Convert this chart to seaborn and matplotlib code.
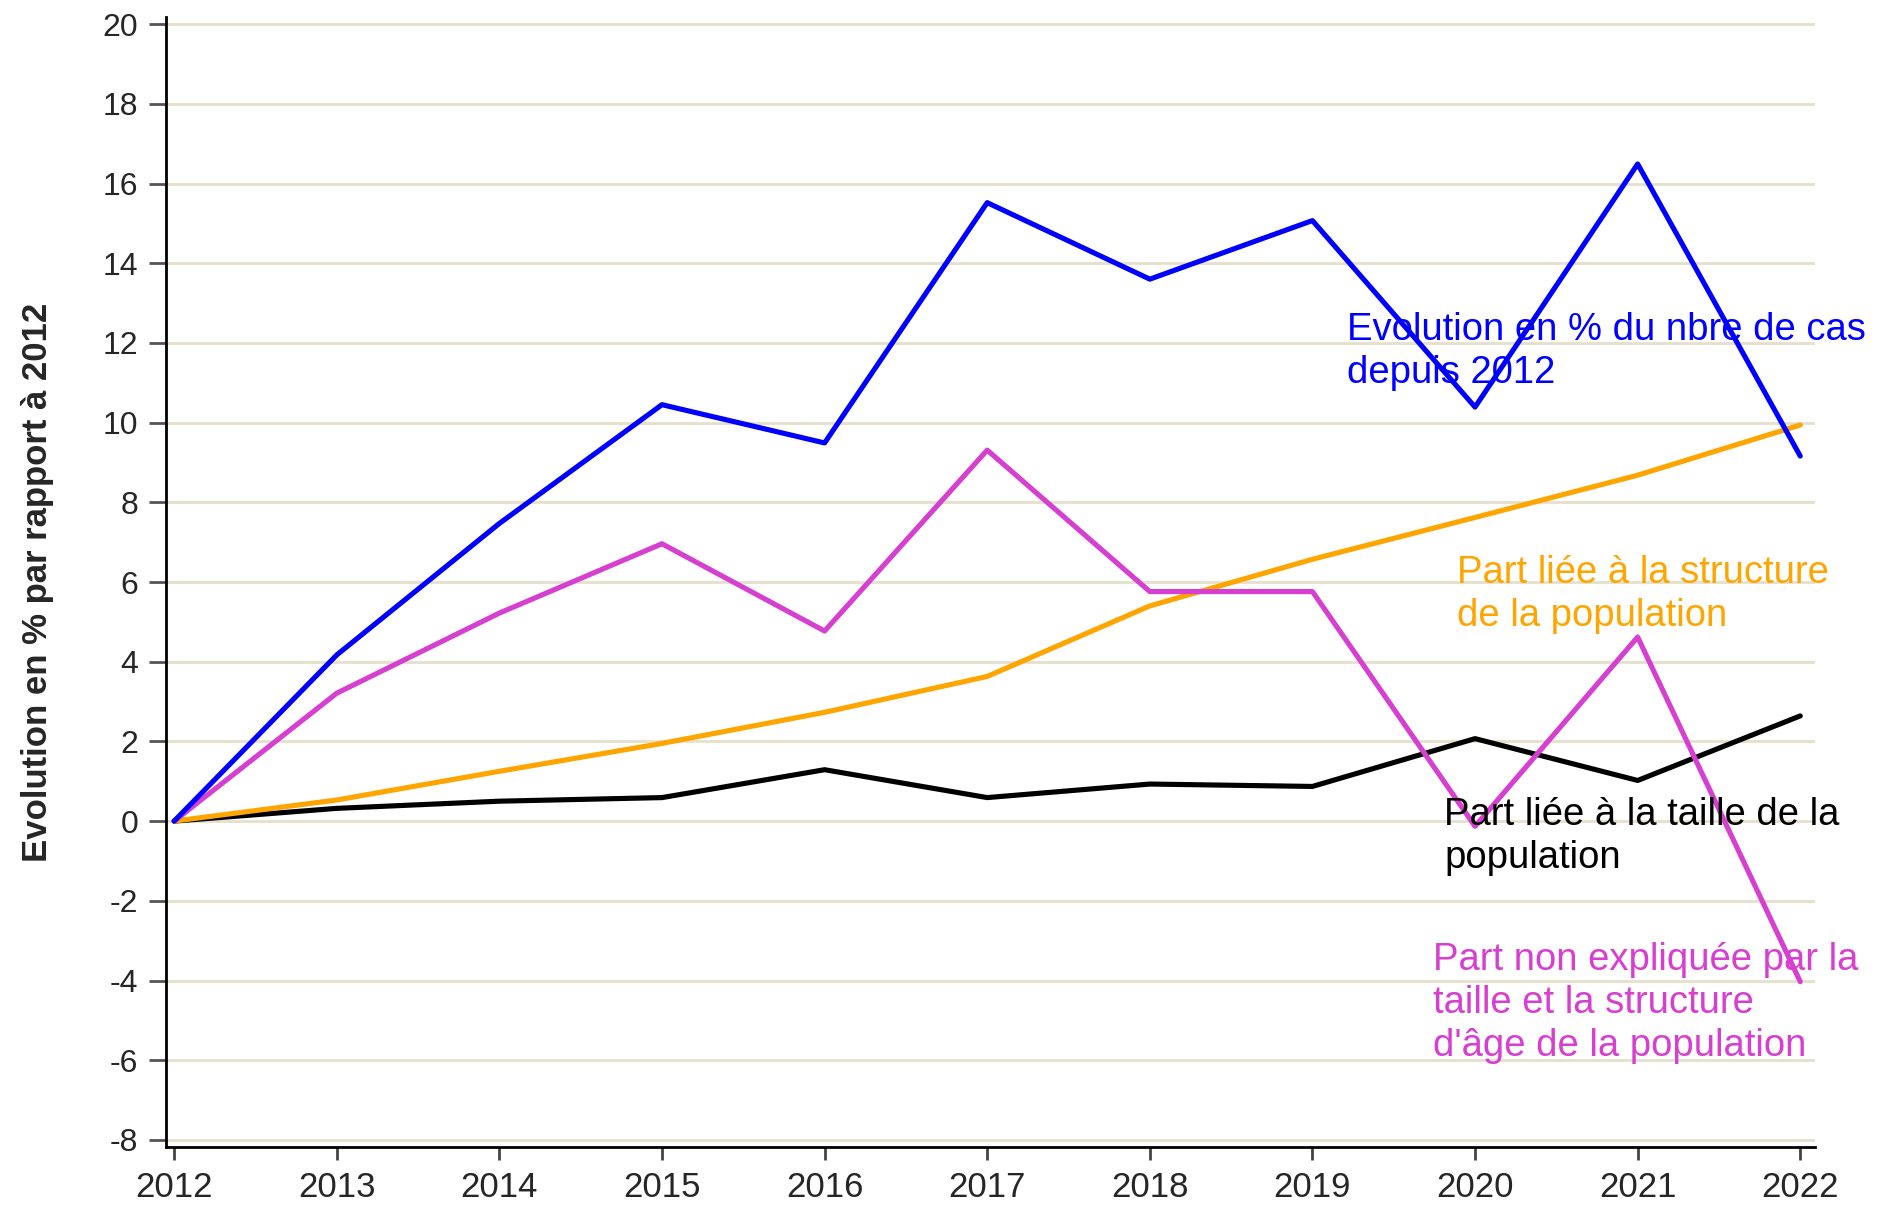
import pandas as pd
import seaborn as sns
import matplotlib.pyplot as plt

annees = [2012, 2013, 2014, 2015, 2016, 2017, 2018, 2019, 2020, 2021, 2022]
evolution_cas = [0, 4.17, 7.47, 10.45, 9.49, 15.52, 13.60, 15.07, 10.39, 16.49, 9.16]
part_structure = [0, 0.53, 1.25, 1.95, 2.73, 3.63, 5.40, 6.57, 7.62, 8.68, 9.94]
part_taille = [0, 0.32, 0.50, 0.59, 1.29, 0.59, 0.93, 0.87, 2.07, 1.02, 2.64]
part_non_expliquee = [0, 3.21, 5.22, 6.96, 4.77, 9.31, 5.76, 5.76, -0.13, 4.62, -4.03]

series = ["taille", "structure", "non_expliquee", "cas"]
couleurs = {"cas": "#0000ff", "structure": "#ffa500", "taille": "#000000", "non_expliquee": "#d63fcf"}
etiquettes = {
    "cas": "Evolution en % du nbre de cas\ndepuis 2012",
    "structure": "Part liée à la structure\nde la population",
    "taille": "Part liée à la taille de la\npopulation",
    "non_expliquee": "Part non expliquée par la\ntaille et la structure\nd'âge de la population",
}
valeurs = {"cas": evolution_cas, "structure": part_structure,
           "taille": part_taille, "non_expliquee": part_non_expliquee}

df = pd.concat([pd.DataFrame({"annee": annees, "valeur": valeurs[s], "serie": s}) for s in series])

sns.set_style("white")
plt.rcParams['font.family'] = ['Liberation Sans', 'DejaVu Sans']

fig = plt.figure(figsize=(18.78, 12.10), dpi=100)
ax = fig.add_axes([0.0884, 0.052, 0.878, 0.934])

for y in range(-8, 21, 2):
    ax.axhline(y, color="#e6dfcb", lw=2, zorder=0)

sns.lineplot(data=df, x="annee", y="valeur", hue="serie", hue_order=series,
             palette=couleurs, linewidth=3.7, legend=False, ax=ax)

# annotations a droite (y = ligne de base de la derniere ligne)
pos_textes = {"cas": (2019.21, 11.00), "structure": (2019.89, 4.90),
              "taille": (2019.81, -1.17), "non_expliquee": (2019.74, -5.89)}
for s, (x, y) in pos_textes.items():
    ax.text(x, y, etiquettes[s], color=couleurs[s], fontsize=27.5,
            linespacing=1.25, va="baseline", ha="left", clip_on=False)

ax.set_xlim(2011.95, 2022.09)
ax.set_ylim(-8.18, 20.18)
ax.set_xticks(annees)
ax.set_xticklabels([str(a) for a in annees], fontsize=25)
ax.set_yticks(range(-8, 21, 2))
ax.set_yticklabels([str(v) for v in range(-8, 21, 2)], fontsize=23)
ax.set_xlabel("")
ax.set_ylabel("Evolution en % par rapport à 2012", fontsize=25, fontweight="bold")
ax.yaxis.set_label_coords(-0.068, 0.5)

ax.tick_params(axis="y", direction="out", length=12, width=2, color="#555555", pad=8, left=True)
ax.tick_params(axis="x", direction="out", length=9, width=2, color="#444444", pad=8, bottom=True)

for side in ["top", "right"]:
    ax.spines[side].set_visible(False)
for side in ["left", "bottom"]:
    ax.spines[side].set_linewidth(2)
    ax.spines[side].set_color("black")

fig.savefig("out.png", dpi=100)
